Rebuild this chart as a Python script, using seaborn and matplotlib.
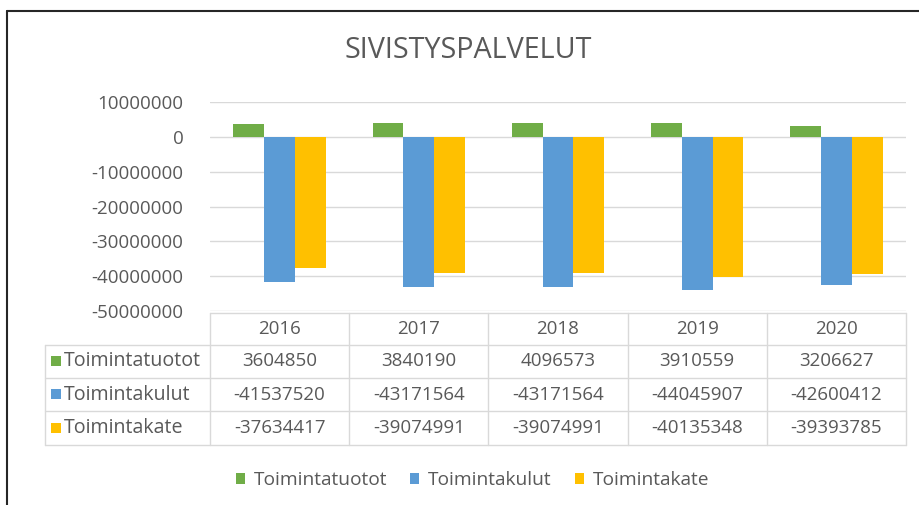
import matplotlib
matplotlib.use("Agg")
import matplotlib.pyplot as plt
import matplotlib.transforms as mtransforms
from matplotlib.lines import Line2D
from matplotlib.patches import Rectangle
import seaborn as sns
import pandas as pd

# ---- data ----
years = ["2016", "2017", "2018", "2019", "2020"]
series_names = ["Toimintatuotot", "Toimintakulut", "Toimintakate"]
toimintatuotot = [3604850, 3840190, 4096573, 3910559, 3206627]
toimintakulut = [-41537520, -43171564, -43171564, -44045907, -42600412]
toimintakate = [-37634417, -39074991, -39074991, -40135348, -39393785]
y_ticks = [10000000, 0, -10000000, -20000000, -30000000, -40000000, -50000000]
title = "SIVISTYSPALVELUT"

colors = ["#70AD47", "#5B9BD5", "#FFC000"]
series_values = [toimintatuotot, toimintakulut, toimintakate]

df = pd.DataFrame({
    "Vuosi": years * 3,
    "Sarja": [s for s in series_names for _ in years],
    "Arvo": toimintatuotot + toimintakulut + toimintakate,
})

sns.set_theme(style="white")
plt.rcParams["font.family"] = ["Open Sans", "DejaVu Sans"]
TXT = "#595959"
GRID = "#D9D9D9"
FS = 13.5       # numbers
FS_LBL = 14.1   # series names

W, H = 919, 505
fig = plt.figure(figsize=(W / 100, H / 100), dpi=100)
fig.patch.set_facecolor("white")

def fx(px):
    return px / W

def fy(py):
    return 1 - py / H

ax_left, ax_right, ax_top, ax_bottom = 210, 906, 102, 311
ax = fig.add_axes([fx(ax_left), fy(ax_bottom), fx(ax_right - ax_left), (ax_bottom - ax_top) / H])

sns.barplot(data=df, x="Vuosi", y="Arvo", hue="Sarja", order=years,
            hue_order=series_names, palette=colors, width=0.665,
            saturation=1, legend=False, linewidth=0, ax=ax)

ax.set_xlim(-0.5, len(years) - 0.5)
ax.set_ylim(min(y_ticks), max(y_ticks))
ax.set_yticks(y_ticks)
ax.set_yticklabels([f"{v:d}" for v in y_ticks], color=TXT, fontsize=FS)
ax.tick_params(axis="y", length=0, pad=19)
ax.set_xticks([])
ax.set_xlabel("")
ax.set_ylabel("")
for sp in ax.spines.values():
    sp.set_visible(False)
for v in y_ticks:
    ax.axhline(v, color=GRID, lw=1, zorder=0)
ax.set_axisbelow(True)

# title
fig.text(0.509, fy(50), title, ha="center", va="center", color=TXT, fontsize=20.7)

# ---- data table under the axis ----
trans = mtransforms.blended_transform_factory(ax.transData, fig.transFigure)
row_edges = [313, 345, 378, 411, 445]
label_left = 45

def hline(x0, x1, y):
    fig.add_artist(Line2D([fx(x0), fx(x1)], [fy(y), fy(y)], color=GRID, lw=1))

def vline(x, y0, y1):
    fig.add_artist(Line2D([fx(x), fx(x)], [fy(y0), fy(y1)], color=GRID, lw=1))

hline(ax_left, ax_right, row_edges[0])
for y in row_edges[1:]:
    hline(label_left, ax_right, y)
vline(label_left, row_edges[1], row_edges[-1])
for i in range(len(years) + 1):
    x = ax_left + i * (ax_right - ax_left) / len(years)
    vline(x, row_edges[0], row_edges[-1])

for i, yr in enumerate(years):
    fig.text(i, fy((row_edges[0] + row_edges[1]) / 2), yr, transform=trans,
             ha="center", va="center", color=TXT, fontsize=FS)

for r, (name, vals, col) in enumerate(zip(series_names, series_values, colors)):
    yc = (row_edges[r + 1] + row_edges[r + 2]) / 2
    fig.add_artist(Rectangle((fx(51), fy(yc + 4.5)), fx(10), 10 / H,
                             facecolor=col, edgecolor="none"))
    fig.text(fx(64), fy(yc), name, ha="left", va="center", color=TXT, fontsize=FS_LBL)
    for i, v in enumerate(vals):
        fig.text(i, fy(yc), f"{v:d}", transform=trans, ha="center", va="center",
                 color=TXT, fontsize=FS)

# ---- legend ----
handles = [Rectangle((0, 0), 1, 1, facecolor=c, edgecolor="none") for c in colors]
fig.legend(handles, series_names, loc="center", bbox_to_anchor=(0.514, fy(480)),
           ncol=3, frameon=False, fontsize=FS_LBL - 0.3, labelcolor=TXT,
           handlelength=0.48, handleheight=0.48, handletextpad=0.45, columnspacing=1.2)

# outer frame (left and top edges)
fig.add_artist(Line2D([fx(6.5), fx(6.5)], [fy(11), 0], color="#262626", lw=1.5))
fig.add_artist(Line2D([fx(6.5), 1], [fy(11), fy(11)], color="#262626", lw=1.5))

fig.savefig("out.png", dpi=100)
